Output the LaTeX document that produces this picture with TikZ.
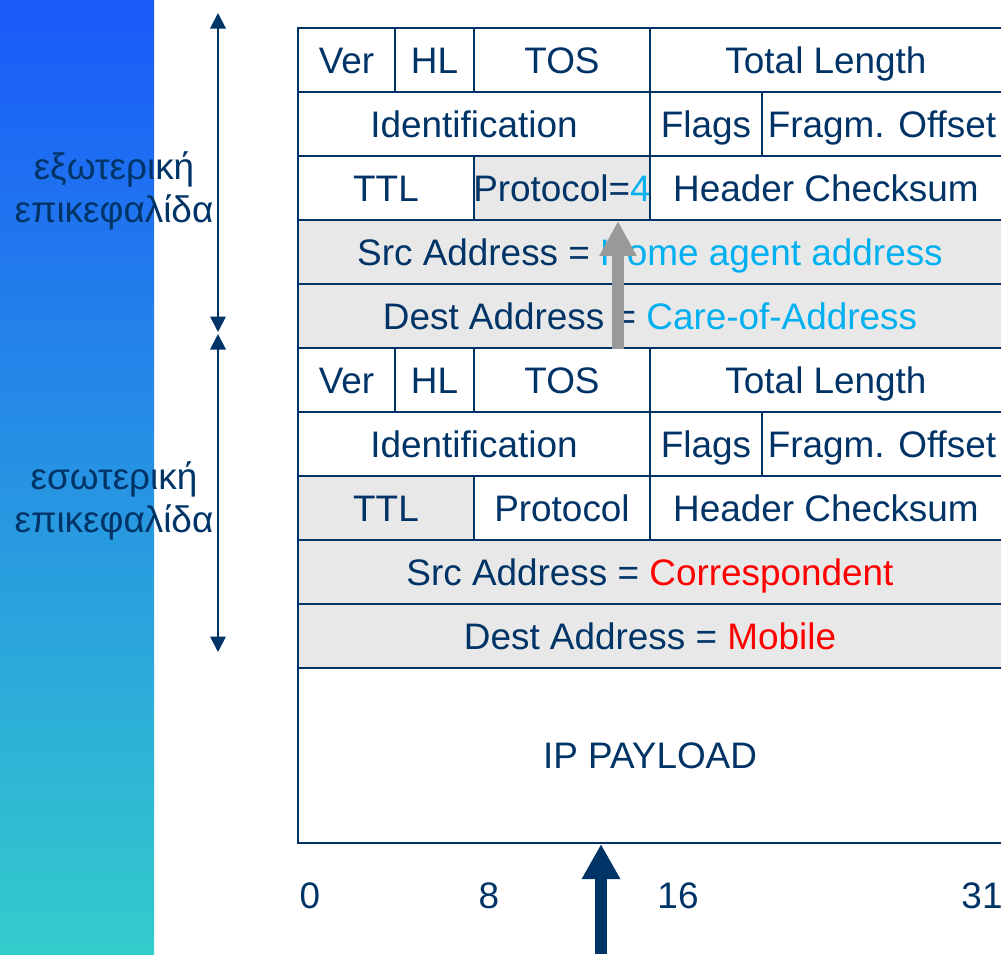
\documentclass[tikz,border=0pt]{standalone}
\usepackage{fontspec}
\setmainfont{Liberation Sans}
\usetikzlibrary{arrows.meta, positioning}
\definecolor{hdrnavy}{RGB}{0, 51, 102}
\definecolor{hdrgray}{RGB}{232, 232, 232}
\definecolor{hdrcyan}{RGB}{0, 176, 240}
\definecolor{bandtop}{RGB}{26, 90, 250}
\definecolor{bandbot}{RGB}{51, 204, 204}
\definecolor{ptrgray}{RGB}{153, 153, 153}
% one header field: [fill] name, x1, y1, x2, y2, text
\newcommand{\field}[7][white]{%
  \draw[cellline, fill=#1] (#3,#4) rectangle (#5,#6);
  \node[celltext] (#2) at ({(#3+#5)/2},{(#4+#6)/2}) {#7};}

\begin{document}
\begin{tikzpicture}[x=0.02cm, y=-0.02cm,
  cellline/.style={draw=hdrnavy, line width=1.1pt},
  celltext/.style={text=hdrnavy, font=\fontsize{21}{24}\selectfont, text height=15pt, text depth=0pt, inner sep=0pt},
  bitnum/.style={text=hdrnavy, font=\fontsize{21}{24}\selectfont, inner sep=0pt},
  sidelabel/.style={text=hdrnavy, font=\fontsize{21}{24.5}\selectfont, align=center, inner sep=0pt},
  dimarrow/.style={draw=hdrnavy, line width=1.1pt, {Triangle[width=0.31cm, length=0.31cm]}-{Triangle[width=0.31cm, length=0.31cm]}},
  ptrarrow/.style={draw=ptrgray, line width=0.24cm, -{Triangle[width=0.7cm, length=0.7cm]}},
  feedarrow/.style={draw=hdrnavy, line width=0.24cm, -{Triangle[width=0.72cm, length=0.7cm]}}]
  \useasboundingbox (0,0) rectangle (1001,954);
  \clip (0,0) rectangle (1001,954);

  % colour band
  \shade[top color=bandtop, bottom color=bandbot] (0,0) rectangle (154,954);

  % rows common to both headers
  \foreach \off/\pfx in {0/o, 320/i}{
    \field{\pfx ver}{298}{28+\off}{395}{92+\off}{Ver}
    \field{\pfx hl}{395}{28+\off}{474}{92+\off}{HL}
    \field{\pfx tos}{474}{28+\off}{650}{92+\off}{TOS}
    \field{\pfx len}{650}{28+\off}{1002}{92+\off}{Total Length}
    \field{\pfx id}{298}{92+\off}{650}{156+\off}{Identification}
    \field{\pfx flags}{650}{92+\off}{762}{156+\off}{Flags}
    \field{\pfx frag}{762}{92+\off}{1002}{156+\off}{Fragm. Offset}
  }

  % outer header
  \field{ottl}{298}{156}{474}{220}{TTL}
  \field[hdrgray]{oproto}{474}{156}{650}{220}{Protocol=\textcolor{hdrcyan}{4}}
  \field{ocheck}{650}{156}{1002}{220}{Header Checksum}
  \field[hdrgray]{osrc}{298}{220}{1002}{284}{Src Address = \textcolor{hdrcyan}{Home agent address}}
  \field[hdrgray]{odst}{298}{284}{1002}{348}{Dest Address = \textcolor{hdrcyan}{Care-of-Address}}

  % inner header
  \field[hdrgray]{ittl}{298}{476}{474}{540}{TTL}
  \field{iproto}{474}{476}{650}{540}{Protocol}
  \field{icheck}{650}{476}{1002}{540}{Header Checksum}
  \field[hdrgray]{isrc}{298}{540}{1002}{604}{Src Address = \textcolor{red}{Correspondent}}
  \field[hdrgray]{idst}{298}{604}{1002}{668}{Dest Address = \textcolor{red}{Mobile}}
  \field{pay}{298}{668}{1002}{843}{IP PAYLOAD}

  % bit positions
  \node[bitnum] (b0) at (310,896) {0};
  \node[bitnum] (b8) at (489,896) {8};
  \node[bitnum] (b16) at (678,896) {16};
  \node[bitnum] (b31) at (982,896) {31};

  % side labels
  \node[sidelabel] (outerlbl) at (114,191) {εξωτερική\\επικεφαλίδα};
  \node[sidelabel] (innerlbl) at (114,501) {εσωτερική\\επικεφαλίδα};

  \coordinate (otop) at (218,13);
  \coordinate (obot) at (218,332);
  \coordinate (itop) at (218,334);
  \coordinate (ibot) at (218,652);
  \draw[dimarrow] (otop) -- (obot);
  \draw[dimarrow] (itop) -- (ibot);

  % pointer to protocol field
  \coordinate (ptrtail) at (618,349);
  \coordinate (ptrtip) at (618,221);
  \draw[ptrarrow] (ptrtail) -- (ptrtip);

  % incoming packet
  \coordinate (feedtail) at (601,954);
  \coordinate (feedtip) at (601,844);
  \draw[feedarrow] (feedtail) -- (feedtip);
\end{tikzpicture}
\end{document}
